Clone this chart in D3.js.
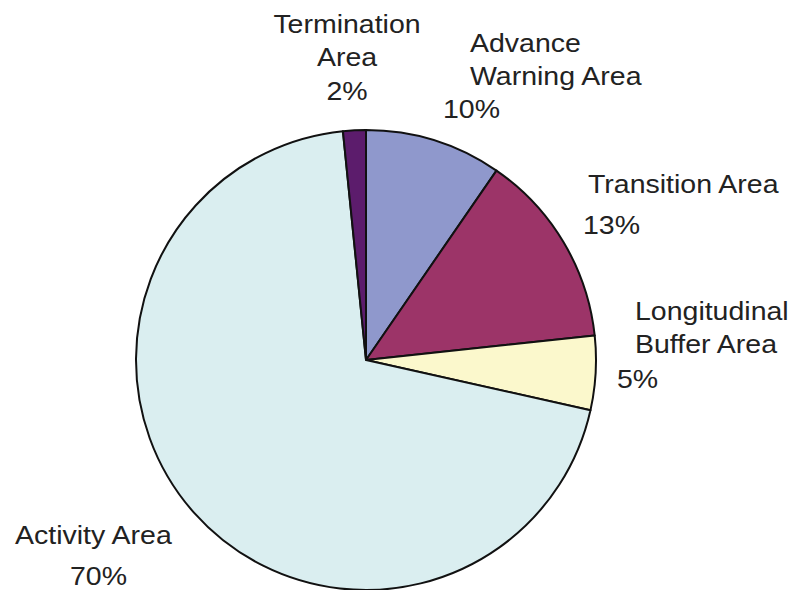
<!DOCTYPE html>
<html><head><meta charset="utf-8">
<script src="https://cdn.jsdelivr.net/npm/d3@7"></script>
<style>body{margin:0;background:#fff}svg{display:block}</style>
</head><body>
<svg id="c" width="796" height="590"></svg>
<script>
// Data (clockwise from 12 o'clock)
const categories = ["Advance Warning Area", "Transition Area", "Longitudinal Buffer Area", "Activity Area", "Termination Area"];
const values = [9.6, 13.7, 5.2, 69.9, 1.6];           // slice sizes
const percentLabels = ["10%", "13%", "5%", "70%", "2%"]; // printed labels
const colors = ["#8f98cc", "#9c3468", "#fbf8cc", "#daeef0", "#5c1c6c"];

const svg = d3.select("#c");
const cx = 366, cy = 360, r = 230;

const pie = d3.pie().sort(null).value(d => d.v);
const arc = d3.arc().innerRadius(0).outerRadius(r);
const data = categories.map((c, i) => ({c, v: values[i], col: colors[i]}));

svg.append("g").attr("transform", `translate(${cx},${cy})`)
  .selectAll("path").data(pie(data)).join("path")
  .attr("d", arc).attr("fill", d => d.data.col)
  .attr("stroke", "#111").attr("stroke-width", 2).attr("stroke-linejoin", "round");

// Labels: lines of text per category
const labelLines = {
  "Termination Area": [["Termination", "Area", percentLabels[4]], "middle", [[347,33],[347,66],[347,100]]],
  "Advance Warning Area": [["Advance", "Warning Area", percentLabels[0]], "start", [[470,52],[470,85],[443,118]]],
  "Transition Area": [["Transition Area", percentLabels[1]], "start", [[588,193],[583,234]]],
  "Longitudinal Buffer Area": [["Longitudinal", "Buffer Area", percentLabels[2]], "start", [[635,320],[635,353],[617,388]]],
  "Activity Area": [["Activity Area", percentLabels[3]], "start", [[15,544],[70,585]]]
};
const lg = svg.append("g");
Object.values(labelLines).forEach(([lines, anchor, pos]) => {
  lines.forEach((t, i) => {
    lg.append("text")
      .attr("transform", `translate(${pos[i][0]},${pos[i][1]}) scale(1.14,1)`)
      .attr("text-anchor", anchor)
      .attr("font-family", "Liberation Sans, Arial, sans-serif")
      .attr("font-size", 25)
      .attr("fill", "#222")
      .text(t);
  });
});
</script>
</body></html>
